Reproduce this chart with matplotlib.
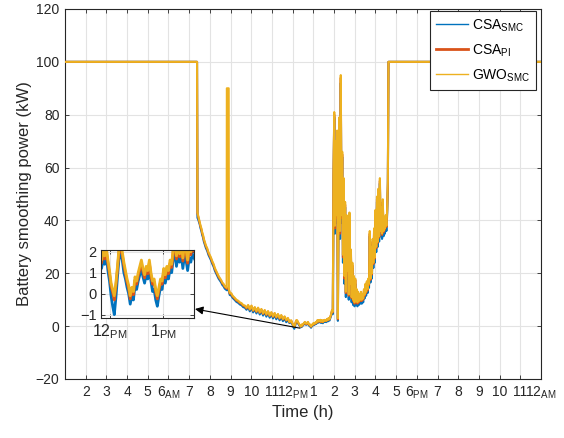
import numpy as np
import matplotlib
matplotlib.use("Agg")
import matplotlib.pyplot as plt
from matplotlib.lines import Line2D

plt.rcParams["font.family"] = ["Liberation Sans", "DejaVu Sans"]
plt.rcParams["mathtext.fontset"] = "custom"
plt.rcParams["mathtext.rm"] = "Liberation Sans"
plt.rcParams["mathtext.it"] = "Liberation Sans:italic"
plt.rcParams["mathtext.bf"] = "Liberation Sans:bold"

# ---------------- data (time in hours, power in kW) ----------------
hours_morning = [1.0, 7.36]
gwo_morning = [100, 100]
csa_smc_morning = [100, 100]
csa_pi_morning = [100, 100]

hours_decay = [7.38, 7.40, 7.43, 7.47, 7.51, 7.55, 7.59, 7.63, 7.67, 7.71,
               7.75, 7.81, 7.87, 7.93, 7.99, 8.05, 8.12, 8.18, 8.24, 8.30,
               8.36, 8.42, 8.48, 8.54, 8.60, 8.66, 8.72, 8.77, 8.81, 8.82,
               8.91, 8.92, 8.96, 9.03, 9.10, 9.19, 9.28, 9.37, 9.45, 9.53,
               9.61, 9.69, 9.77]
gwo_decay = [100, 43, 42, 40.5, 39.5, 38, 37, 35.5, 34.5, 33,
             32, 30.5, 29.5, 28, 27, 26, 24.5, 23.5, 22, 21,
             20, 19, 18.2, 17.5, 16.5, 16, 15.1, 14.8, 14.5, 90,
             90, 14.0, 12.6, 12.5, 11.5, 10.8, 10, 9.6, 9, 8.7,
             8, 7.8, 7]
csa_smc_decay = [100, 41, 40.5, 39.5, 38.5, 37, 36, 34.5, 33.5, 32,
                 31, 29.5, 28.5, 27, 26, 25, 23.5, 22.5, 21, 20,
                 19, 18, 17.3, 16.6, 15.6, 15.1, 14.2, 13.9, 13.6, 13.8,
                 13.5, 13.2, 11.8, 11.6, 10.7, 10.0, 9.2, 8.8, 8.2, 7.9,
                 7.2, 7.0, 6.2]
csa_pi_decay = [100, 42.6, 41.6, 40.1, 39.1, 37.6, 36.6, 35.1, 34.1, 32.6,
                31.6, 30.1, 29.1, 27.6, 26.6, 25.6, 24.1, 23.1, 21.6, 20.6,
                19.6, 18.6, 17.9, 17.2, 16.2, 15.7, 14.8, 14.5, 14.2, 14.4,
                14.1, 13.7, 12.3, 12.2, 11.2, 10.5, 9.7, 9.3, 8.7, 8.4,
                7.7, 7.5, 6.7]

hours_low = [9.85, 9.93, 10.01, 10.09, 10.17, 10.25, 10.33, 10.41, 10.49, 10.57,
             10.65, 10.73, 10.81, 10.89, 10.97, 11.05, 11.13, 11.21, 11.29, 11.37,
             11.45, 11.53, 11.61, 11.69, 11.77]
gwo_low = [8.0, 6.4, 7.8, 6.0, 7.2, 5.6, 7.0, 5.2, 6.5, 4.8,
           6.1, 4.4, 5.7, 4.0, 5.3, 3.7, 5.0, 3.4, 4.6, 3.0,
           4.2, 2.7, 3.7, 2.3, 3.1]
csa_smc_low = [7.2, 5.6, 7.0, 5.2, 6.4, 4.8, 6.2, 4.4, 5.7, 4.0,
               5.3, 3.6, 4.9, 3.2, 4.5, 2.9, 4.2, 2.6, 3.8, 2.2,
               3.4, 1.9, 2.9, 1.5, 2.3]
csa_pi_low = [7.8, 6.2, 7.6, 5.8, 7.0, 5.4, 6.8, 5.0, 6.3, 4.6,
              5.9, 4.2, 5.5, 3.8, 5.1, 3.5, 4.8, 3.2, 4.4, 2.8,
              4.0, 2.5, 3.5, 2.1, 2.9]

hours_noon = [11.84, 11.87, 11.90, 11.93, 11.96, 11.99, 12.02, 12.05, 12.08, 12.11,
              12.14, 12.17, 12.20, 12.23, 12.26, 12.29, 12.32, 12.35, 12.38, 12.41,
              12.44, 12.47, 12.50, 12.53, 12.56, 12.59, 12.62, 12.65, 12.68, 12.71,
              12.74, 12.77, 12.80, 12.83, 12.86, 12.89, 12.92, 12.95, 12.98, 13.01,
              13.04, 13.07, 13.10, 13.13, 13.16, 13.19, 13.22, 13.25, 13.28, 13.31,
              13.34, 13.37, 13.40, 13.43, 13.46, 13.49, 13.52, 13.55, 13.58]
gwo_noon = [1.6, 2.1, 1.8, 2.2, 1.6, 1.1, 0.5, 0.2, -0.1, 0.5,
            1.3, 2.2, 2.3, 2.0, 1.5, 1.1, 0.7, 0.4, -0.1, 0.3,
            0.1, 0.8, 0.6, 1.0, 1.3, 1.6, 1.2, 0.9, 1.3, 1.1,
            1.6, 1.0, 0.6, 0.7, 0.2, -0.1, 0.3, 0.7, 0.6, 1.2,
            0.9, 1.3, 1.1, 1.6, 1.4, 2.2, 2.3, 1.8, 2.3, 1.9,
            2.4, 1.7, 2.3, 2.1, 1.6, 2.2, 2.0, 2.4, 2.2]
csa_smc_noon = [1.2, 1.6, 1.4, 1.8, 1.1, 0.6, -0.1, -0.6, -1.0, -0.2,
                0.8, 1.7, 1.9, 1.6, 1.0, 0.7, 0.3, 0.0, -0.5, -0.1,
                -0.3, 0.4, 0.2, 0.6, 0.9, 1.2, 0.8, 0.5, 0.9, 0.7,
                1.2, 0.6, 0.1, 0.2, -0.3, -0.6, -0.1, 0.3, 0.2, 0.8,
                0.5, 0.9, 0.7, 1.2, 1.0, 1.7, 1.9, 1.3, 1.8, 1.5,
                1.9, 1.2, 1.8, 1.6, 1.1, 1.7, 1.5, 1.9, 1.7]
csa_pi_noon = [1.45, 1.95, 1.65, 2.05, 1.45, 0.95, 0.35, 0.05, -0.3, 0.35,
               1.15, 2.05, 2.15, 1.85, 1.35, 0.95, 0.55, 0.25, -0.25, 0.15,
               -0.05, 0.65, 0.45, 0.85, 1.15, 1.45, 1.05, 0.75, 1.15, 0.95,
               1.45, 0.85, 0.45, 0.55, 0.05, -0.25, 0.15, 0.55, 0.45, 1.05,
               0.75, 1.15, 0.95, 1.45, 1.25, 2.05, 2.15, 1.65, 2.15, 1.75,
               2.25, 1.55, 2.15, 1.95, 1.45, 2.05, 1.85, 2.25, 2.05]

hours_rise = [13.62, 13.66, 13.70, 13.74, 13.78, 13.82, 13.86, 13.90]
gwo_rise = [2.0, 2.7, 2.3, 3.1, 2.6, 3.6, 4.5, 6.0]
csa_smc_rise = [1.5, 2.2, 1.8, 2.6, 2.1, 3.1, 4.0, 5.4]
csa_pi_rise = [1.9, 2.6, 2.2, 3.0, 2.5, 3.5, 4.4, 5.9]

hours_burst = [13.94, 13.975, 14.01, 14.045, 14.08, 14.115, 14.15, 14.185, 14.22, 14.255,
               14.29, 14.325, 14.36, 14.395, 14.43, 14.465, 14.50, 14.535, 14.57, 14.605,
               14.64, 14.675, 14.71, 14.745, 14.78, 14.815, 14.85, 14.885, 14.92, 14.955,
               14.99, 15.025, 15.06, 15.095, 15.13, 15.165, 15.20, 15.235, 15.27, 15.305,
               15.34, 15.375, 15.41, 15.445, 15.48, 15.515, 15.55, 15.585, 15.62, 15.655,
               15.69, 15.725, 15.76, 15.795, 15.83, 15.865, 15.90, 15.935, 15.97, 16.005,
               16.04, 16.075, 16.11, 16.145, 16.18, 16.215, 16.25, 16.285, 16.32, 16.355,
               16.39, 16.425, 16.46, 16.495, 16.53, 16.565, 16.60, 16.63]
gwo_burst = [5.5, 58, 81, 38, 70, 42, 74, 3, 50, 79,
             36, 95, 42, 66, 27, 56, 19, 47, 13, 42,
             21, 37, 12, 43, 16, 29, 11, 24, 10, 19,
             9, 18, 10, 14, 9, 13, 9.5, 12, 10, 13,
             10, 12, 10.5, 14, 12, 16, 13, 17, 14, 18,
             16, 36, 18, 30, 20, 33, 24, 37, 26, 44,
             30, 49, 32, 52, 34, 56, 36, 45, 35, 48,
             36, 41, 37, 42, 38, 44, 55, 100]
csa_smc_burst = [4.5, 55, 79, 35, 68, 39, 72, 2, 47, 77,
                 33, 92, 39, 64, 24, 54, 16, 45, 11, 40,
                 18, 35, 10, 41, 14, 27, 9, 22, 8, 17,
                 7.5, 16, 8, 12.5, 7.5, 11.5, 8, 10.5, 8.5, 11.5,
                 8.5, 10.5, 9, 12.5, 10.5, 14.5, 11.5, 15.5, 12.5, 16.5,
                 14.5, 34, 16.5, 28, 18, 31, 22, 35, 24, 42,
                 28, 47, 30, 50, 32, 54, 34, 43, 33, 46,
                 34, 39, 35, 40, 36, 42, 53, 100]
csa_pi_burst = [5.2, 57, 80, 37, 69, 41, 73, 2.6, 49, 78,
                35, 94, 41, 65, 26, 55, 18, 46, 12.5, 41,
                20, 36, 11.5, 42, 15.5, 28, 10.5, 23, 9.5, 18.5,
                8.5, 17.5, 9.5, 13.5, 8.5, 12.5, 9, 11.5, 9.5, 12.5,
                9.5, 11.5, 10, 13.5, 11.5, 15.5, 12.5, 16.5, 13.5, 17.5,
                15.5, 35, 17.5, 29, 19.5, 32, 23.5, 36, 25.5, 43,
                29.5, 48, 31.5, 51, 33.5, 55, 35.5, 44, 34.5, 47,
                35.5, 40, 36.5, 41, 37.5, 43, 54, 100]

hours_evening = [16.65, 24.0]
gwo_evening = [100, 100]
csa_smc_evening = [100, 100]
csa_pi_evening = [100, 100]

tick_hours = list(range(2, 25))
tick_labels = ["2", "3", "4", "5", "6$_{\\mathrm{AM}}$", "7", "8", "9", "10", "11",
               "12$_{\\mathrm{PM}}$", "1", "2", "3", "4", "5", "6$_{\\mathrm{PM}}$",
               "7", "8", "9", "10", "11", "12$_{\\mathrm{AM}}$"]
inset_ticks = [12, 13]
inset_labels = ["12$_{\\mathrm{PM}}$", "1$_{\\mathrm{PM}}$"]

series_names = ["CSA$_{\\mathrm{SMC}}$", "CSA$_{\\mathrm{PI}}$", "GWO$_{\\mathrm{SMC}}$"]

hours = np.concatenate([hours_morning, hours_decay, hours_low, hours_noon,
                        hours_rise, hours_burst, hours_evening])
gwo_smc = np.concatenate([gwo_morning, gwo_decay, gwo_low, gwo_noon,
                          gwo_rise, gwo_burst, gwo_evening])
csa_smc = np.concatenate([csa_smc_morning, csa_smc_decay, csa_smc_low, csa_smc_noon,
                          csa_smc_rise, csa_smc_burst, csa_smc_evening])
csa_pi = np.concatenate([csa_pi_morning, csa_pi_decay, csa_pi_low, csa_pi_noon,
                         csa_pi_rise, csa_pi_burst, csa_pi_evening])

# ---------------- styling ----------------
BLUE = "#0072BD"
RED = "#D95319"
YELLOW = "#EDB120"
AXC = "#262626"
GRID = "#e3e3e3"


def style_axes(a, fs):
    for s in a.spines.values():
        s.set_color(AXC)
        s.set_linewidth(0.8)
    a.tick_params(direction="in", top=True, right=True, length=3,
                  width=0.6, color=AXC, labelcolor=AXC, labelsize=fs, pad=4)
    a.grid(True, color=GRID, linewidth=0.8)
    a.set_axisbelow(True)


fig = plt.figure(figsize=(5.64, 4.38), dpi=100)
ax = fig.add_axes([65 / 564, 59 / 438, 476 / 564, 370 / 438])

ax.plot(hours, csa_smc, color=BLUE, lw=1.5, zorder=2)
ax.plot(hours, csa_pi, color=RED, lw=1.5, zorder=3)
ax.plot(hours, gwo_smc, color=YELLOW, lw=1.5, zorder=4)

ax.set_xlim(1, 24)
ax.set_ylim(-20, 120)
ax.set_yticks(np.arange(-20, 121, 20))
ax.set_xticks(tick_hours)
ax.set_xticklabels(tick_labels)
style_axes(ax, 10)
ax.set_xlabel("Time (h)", fontsize=12, color=AXC, labelpad=3)
ax.set_ylabel("Battery smoothing power (kW)", fontsize=12, color=AXC, labelpad=3)

handles = [Line2D([], [], color=BLUE, lw=1.0),
           Line2D([], [], color=RED, lw=2.0),
           Line2D([], [], color=YELLOW, lw=1.0)]
leg = ax.legend(handles, series_names, loc="upper right",
                bbox_to_anchor=(0.9895, 0.995), borderaxespad=0,
                fontsize=10, frameon=True, fancybox=False, framealpha=1,
                edgecolor=AXC, handlelength=2.3, handletextpad=0.25,
                labelspacing=0.62, borderpad=0.45)
leg.get_frame().set_linewidth(0.8)

# zoomed view around noon
ins = fig.add_axes([101 / 564, 120 / 438, 93 / 564, 68 / 438])
ins.plot(hours, csa_smc, color=BLUE, lw=2.0)
ins.plot(hours, csa_pi, color=RED, lw=2.0)
ins.plot(hours, gwo_smc, color=YELLOW, lw=2.0)
ins.set_xlim(11.83, 13.58)
ins.set_ylim(-1.16, 2.08)
ins.set_yticks([-1, 0, 1, 2])
ins.set_xticks(inset_ticks)
ins.set_xticklabels(inset_labels)
style_axes(ins, 10.5)
ins.tick_params(pad=3)
for lbl in ins.get_xticklabels():
    lbl.set_fontsize(11.5)

ax.annotate("", xy=(195 / 564, 129 / 438), xycoords="figure fraction",
            xytext=(12.34, -0.75), textcoords="data",
            arrowprops=dict(arrowstyle="-|>", color="black", lw=0.8,
                            mutation_scale=12, shrinkA=0, shrinkB=0),
            annotation_clip=False, zorder=10)

fig.savefig("out.png", dpi=100)
